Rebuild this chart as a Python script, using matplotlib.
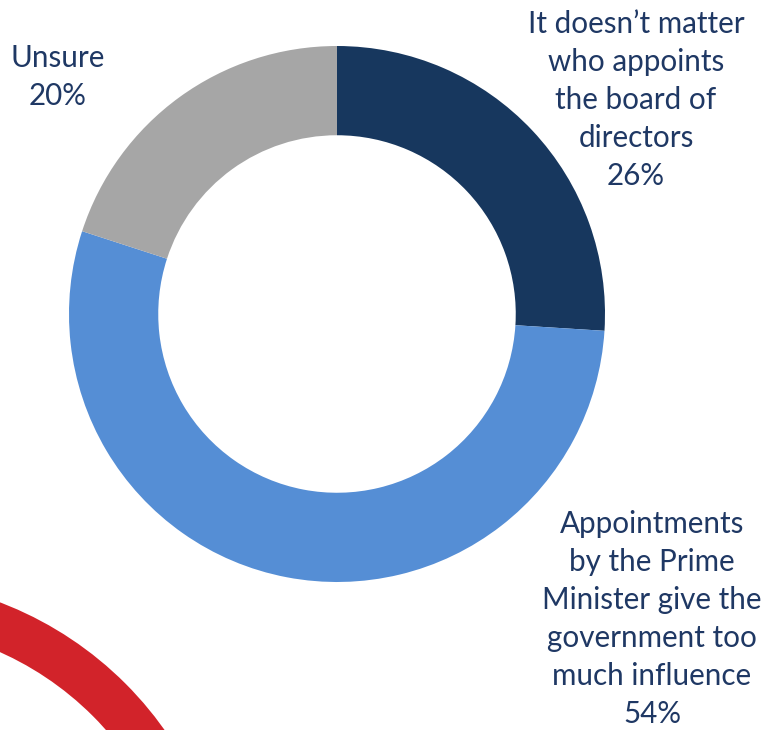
import matplotlib
matplotlib.use("Agg")
import matplotlib.pyplot as plt
from matplotlib.patches import Wedge

# ---- data ----
categories = [
    "It doesn\u2019t matter\nwho appoints\nthe board of\ndirectors",
    "Appointments\nby the Prime\nMinister give the\ngovernment too\nmuch influence",
    "Unsure",
]
values = [26, 54, 20]
colors = ["#17375E", "#558ED5", "#A6A6A6"]

W, H = 764, 730
fig = plt.figure(figsize=(W / 100, H / 100), dpi=100)
ax = fig.add_axes([0, 0, 1, 1])
ax.set_xlim(0, W)
ax.set_ylim(0, H)
ax.set_aspect("equal")
ax.axis("off")

# decorative red ring in the bottom-left corner
ax.add_patch(Wedge((-127, H - 936), 357, 0, 90, width=46,
                   facecolor="#D2232A", edgecolor="none", zorder=0))

cx, cy, R = 337, H - 314, 268
ax.pie(values, colors=colors, startangle=90, counterclock=False,
       center=(cx, cy), radius=R, frame=True,
       wedgeprops=dict(width=R * 0.333, edgecolor="none"))
ax.set_xlim(0, W)
ax.set_ylim(0, H)
ax.axis("off")

label_pos = [(636, H - 100), (652, H - 619), (58, H - 77)]
txt_color = "#1F3864"
for cat, v, (x, y) in zip(categories, values, label_pos):
    ax.text(x, y, f"{cat}\n{v}%", ha="center", va="center",
            multialignment="center", fontsize=21.3, family="Lato",
            color=txt_color, linespacing=1.43)

fig.savefig("out.png", dpi=100)
